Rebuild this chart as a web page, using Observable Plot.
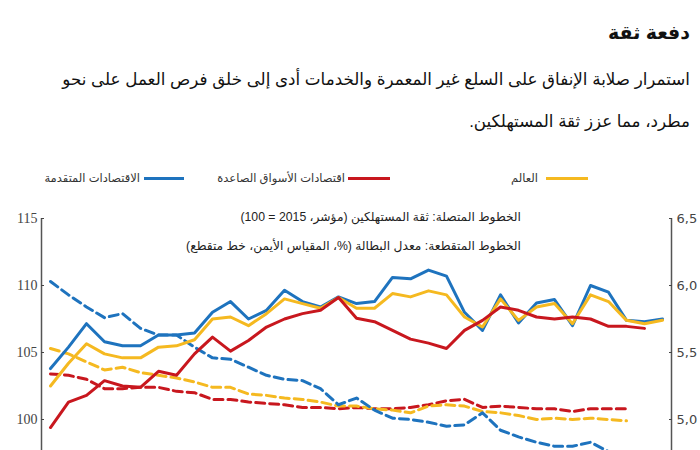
<!DOCTYPE html>
<html>
<head>
<meta charset="utf-8">
<script src="https://cdn.jsdelivr.net/npm/d3@7"></script>
<script src="https://cdn.jsdelivr.net/npm/@observablehq/plot@0.6"></script>
<style>
html, body { margin: 0; padding: 0; background: #fff; width: 700px; height: 450px; overflow: hidden; }
#wrap { position: relative; width: 700px; height: 450px; overflow: hidden; font-family: "Liberation Sans", "DejaVu Sans", sans-serif; color: #111; }
.t { position: absolute; white-space: nowrap; direction: rtl; }
.sw { position: absolute; height: 3px; }
#chart { position: absolute; left: 0; top: 190px; }
</style>
</head>
<body>
<div id="wrap">
  <div class="t" id="title" style="right:10px; top:21px; height:24px; line-height:24px; font-size:19px; font-weight:bold;">دفعة ثقة</div>
  <div class="t" id="sub1" style="right:10px; top:68px; height:24px; line-height:24px; font-size:17px;">استمرار صلابة الإنفاق على السلع غير المعمرة والخدمات أدى إلى خلق فرص العمل على نحو</div>
  <div class="t" id="sub2" style="right:10px; top:110px; height:24px; line-height:24px; font-size:17px;">مطرد، مما عزز ثقة المستهلكين.</div>

  <div class="sw" style="left:546px; width:42px; top:177px; background:#f5b920;"></div>
  <div class="t leg" id="legW" style="right:162px; top:169px; height:18px; line-height:18px; font-size:11.5px; color:#333;"></div>
  <div class="sw" style="left:348px; width:42px; top:177px; background:#c8171e;"></div>
  <div class="t leg" id="legE" style="right:355px; top:169px; height:18px; line-height:18px; font-size:11.5px; color:#333;"></div>
  <div class="sw" style="left:144px; width:40px; top:177px; background:#1e73be;"></div>
  <div class="t leg" id="legA" style="right:560px; top:169px; height:18px; line-height:18px; font-size:11.5px; color:#333;"></div>

  <div class="t" id="ann1" style="right:179px; top:208px; height:18px; line-height:18px; font-size:13px; color:#222;"></div>
  <div class="t" id="ann2" style="right:179px; top:237px; height:18px; line-height:18px; font-size:13px; color:#222;"></div>
  <div id="chart"></div>
</div>
<script>
// ---- data ----
const seriesNames = ["العالم", "اقتصادات الأسواق الصاعدة", "الاقتصادات المتقدمة"];
const annotations = [
  "الخطوط المتصلة: ثقة المستهلكين (مؤشر، 2015 = 100)",
  "الخطوط المتقطعة: معدل البطالة (%، المقياس الأيمن، خط متقطع)"
];
const months = d3.range(35);
const xDomain = [-0.5, 34.5];

// consumer confidence (index, 2015 = 100) - left scale
const worldConf = [102.5, 104.2, 105.65, 104.9, 104.6, 104.6, 105.4, 105.5, 105.95, 107.5, 107.65, 107.0, 107.9, 109.0, 108.65, 108.3, 109.1, 108.3, 108.3, 109.4, 109.15, 109.6, 109.3, 107.65, 106.9, 109.0, 107.4, 108.4, 108.65, 107.15, 109.3, 108.8, 107.4, 107.15, 107.4];
const emConf = [99.4, 101.3, 101.8, 102.9, 102.5, 102.4, 103.6, 103.3, 104.9, 106.15, 105.1, 105.9, 106.9, 107.5, 107.9, 108.15, 109.1, 107.55, 107.3, 106.65, 106.0, 105.7, 105.3, 106.65, 107.4, 108.4, 108.15, 107.65, 107.5, 107.65, 107.5, 106.95, 106.95, 106.8];
const advConf = [103.8, 105.4, 107.15, 105.8, 105.5, 105.5, 106.3, 106.3, 106.45, 108.0, 108.8, 107.5, 108.15, 109.65, 108.8, 108.4, 109.15, 108.65, 108.8, 110.6, 110.5, 111.15, 110.7, 108.0, 106.65, 109.3, 107.2, 108.7, 108.95, 107.0, 110.0, 109.5, 107.4, 107.3, 107.5];

// unemployment rate (%) - right scale
const worldUnemp = [5.53, 5.49, 5.43, 5.37, 5.39, 5.35, 5.33, 5.31, 5.28, 5.24, 5.24, 5.19, 5.18, 5.16, 5.15, 5.13, 5.10, 5.10, 5.08, 5.07, 5.05, 5.10, 5.11, 5.10, 5.06, 5.05, 5.03, 5.00, 5.01, 5.00, 5.01, 5.00, 4.99];
const emUnemp = [5.34, 5.33, 5.30, 5.23, 5.23, 5.24, 5.24, 5.21, 5.20, 5.15, 5.15, 5.13, 5.12, 5.11, 5.09, 5.09, 5.08, 5.09, 5.08, 5.08, 5.09, 5.11, 5.14, 5.15, 5.09, 5.10, 5.09, 5.08, 5.08, 5.06, 5.08, 5.08, 5.08];
const advUnemp = [6.03, 5.93, 5.84, 5.76, 5.79, 5.68, 5.63, 5.63, 5.54, 5.46, 5.45, 5.39, 5.33, 5.30, 5.29, 5.23, 5.11, 5.16, 5.07, 5.01, 5.00, 4.98, 4.95, 4.96, 5.05, 4.92, 4.87, 4.83, 4.80, 4.80, 4.83, 4.76, 4.74, 4.74];

const leftTicks = [100, 105, 110, 115];
const rightTicks = [5.0, 5.5, 6.0, 6.5];

const colors = { world: "#f5b920", em: "#c8171e", adv: "#1e73be" };

// ---- text ----
document.getElementById("legW").textContent = seriesNames[0];
document.getElementById("legE").textContent = seriesNames[1];
document.getElementById("legA").textContent = seriesNames[2];
document.getElementById("ann1").textContent = annotations[0];
document.getElementById("ann2").textContent = annotations[1];

// ---- chart ----
const toLeft = r => 100 + (r - 5) * 10;   // right scale (%) -> left scale (index)
const fromLeft = v => (v - 100) / 10 + 5;

const solid = (arr, color) => Plot.line(arr, {x: (d, i) => months[i], y: d => d, stroke: color, strokeWidth: 3});
const dashed = (arr, color) => Plot.line(arr, {x: (d, i) => months[i], y: d => toLeft(d), stroke: color, strokeWidth: 3, strokeDasharray: "9,5"});

const chart = Plot.plot({
  width: 700,
  height: 326,
  marginTop: 28,
  marginLeft: 41,
  marginRight: 29,
  marginBottom: 30,
  x: {domain: xDomain, axis: null},
  y: {domain: [95, 115], axis: null},
  marks: [
    Plot.ruleX(xDomain, {stroke: "#555", strokeWidth: 1.5}),
    Plot.axisY({anchor: "left", ticks: leftTicks, tickSize: -3, tickPadding: 7, label: null,
      fontFamily: "Liberation Serif", fontSize: 14, color: "#444"}),
    Plot.axisY({anchor: "right", ticks: rightTicks.map(toLeft), tickSize: -3, tickPadding: 8, label: null,
      tickFormat: v => fromLeft(v).toFixed(1).replace(".", ","),
      fontFamily: "DejaVu Sans", fontSize: 13, color: "#444"}),
    dashed(emUnemp, colors.em),
    dashed(worldUnemp, colors.world),
    dashed(advUnemp, colors.adv),
    solid(advConf, colors.adv),
    solid(worldConf, colors.world),
    solid(emConf, colors.em)
  ]
});
document.getElementById("chart").appendChild(chart);

// ---- fit text widths to reference ----
function fit(id, target) {
  const el = document.getElementById(id);
  const fs = parseFloat(el.style.fontSize);
  const w = el.getBoundingClientRect().width;
  return fs * target / w;
}
const s1 = fit("sub1", 628);
document.getElementById("sub1").style.fontSize = s1 + "px";
document.getElementById("sub2").style.fontSize = s1 + "px";
document.getElementById("title").style.fontSize = fit("title", 82) + "px";
const sa = fit("ann2", 335);
["ann1", "ann2"].forEach(id => document.getElementById(id).style.fontSize = sa + "px");
</script>
</body>
</html>
